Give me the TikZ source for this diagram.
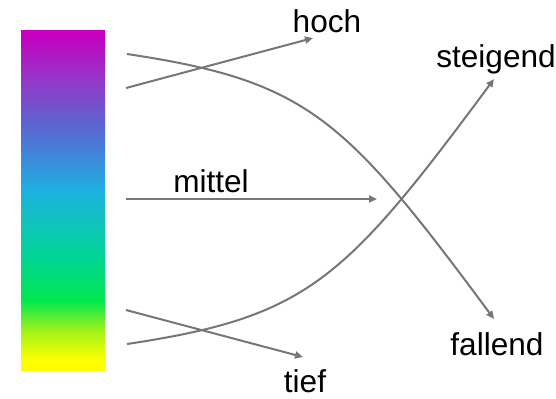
\documentclass[tikz,border=0pt]{standalone}
\usepackage{fontspec}
\setmainfont{Liberation Sans}
\usepackage{xcolor}
\usepackage{tikz}
\usetikzlibrary{arrows.meta}
\usetikzlibrary{positioning}

\definecolor{pfeilgrau}{HTML}{767676}
\pgfdeclareverticalshading{spektrum}{100bp}{
  color(0bp)=(yellow); color(25bp)=(yellow);
  color(26.5bp)=(yellow);
  color(30.9bp)=({rgb,255:red,158;green,242;blue,26});
  color(35.3bp)=({rgb,255:red,0;green,232;blue,80});
  color(41.2bp)=({rgb,255:red,0;green,214;blue,144});
  color(47.1bp)=({rgb,255:red,16;green,194;blue,192});
  color(51.5bp)=({rgb,255:red,30;green,176;blue,224});
  color(55.9bp)=({rgb,255:red,58;green,140;blue,218});
  color(61.8bp)=({rgb,255:red,96;green,96;blue,208});
  color(67.6bp)=({rgb,255:red,148;green,56;blue,200});
  color(74.3bp)=({rgb,255:red,196;green,0;blue,192});
  color(75bp)=({rgb,255:red,200;green,0;blue,192});
  color(100bp)=({rgb,255:red,200;green,0;blue,192})}

\begin{document}
\begin{tikzpicture}[x=0.5pt, y=-0.5pt,
    pfeil/.style={-{Triangle[length=4pt, width=3.5pt]}, pfeilgrau, line width=1pt},
    wort/.style={anchor=base, inner sep=0pt, font=\fontsize{15.8}{19}\selectfont}]
  \useasboundingbox (0,0) rectangle (556,398);

  % Farbbalken
  \shade[shading=spektrum] (21,30) rectangle (105,370);

  % Beschriftungen
  \node[wort] (hoch) at (327,32) {hoch};
  \node[wort] (steigend) at (496,67) {steigend};
  \node[wort] (mittel) at (211,192) {mittel};
  \node[wort] (fallend) at (497,355) {fallend};
  \node[wort] (tief) at (305,392) {tief};

  % Anfangs- und Endpunkte
  \coordinate (hochA) at (126,88);    \coordinate (hochE) at (313,38);
  \coordinate (fallA) at (127,54);    \coordinate (fallE) at (494,319);
  \coordinate (mittelA) at (126,199); \coordinate (mittelE) at (377,199);
  \coordinate (steigA) at (127,344);  \coordinate (steigE) at (494,79);
  \coordinate (tiefA) at (126,310);   \coordinate (tiefE) at (303,357);

  % Pfeile
  \draw[pfeil] (hochA) -- (hochE);
  \draw[pfeil] (fallA) .. controls (307,81) and (344,116.5) .. (fallE);
  \draw[pfeil] (mittelA) -- (mittelE);
  \draw[pfeil] (steigA) .. controls (307,317) and (344,281.5) .. (steigE);
  \draw[pfeil] (tiefA) -- (tiefE);
\end{tikzpicture}
\end{document}
